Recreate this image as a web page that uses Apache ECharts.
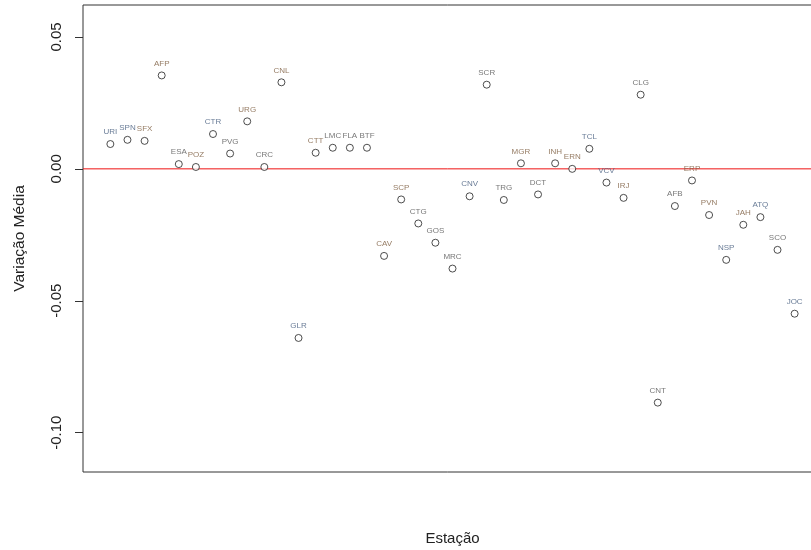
<!DOCTYPE html>
<html>
<head>
<meta charset="utf-8">
<script src="https://cdn.jsdelivr.net/npm/echarts@6/dist/echarts.min.js"></script>
<style>
  html, body { margin: 0; padding: 0; background: #ffffff; }
  #chart { width: 811px; height: 550px; }
</style>
</head>
<body>
<div id="chart"></div>
<script>
// Station codes, in plotting order (x = 1..n)
const stations = [
  'URI', 'SPN', 'SFX', 'AFP', 'ESA', 'POZ', 'CTR', 'PVG', 'URG', 'CRC',
  'CNL', 'GLR', 'CTT', 'LMC', 'FLA', 'BTF', 'CAV', 'SCP', 'CTG', 'GOS',
  'MRC', 'CNV', 'SCR', 'TRG', 'MGR', 'DCT', 'INH', 'ERN', 'TCL', 'VCV',
  'IRJ', 'CLG', 'CNT', 'AFB', 'ERP', 'PVN', 'NSP', 'JAH', 'ATQ', 'SCO', 'JOC'
];

// Mean variation per station
const meanVariation = [
  0.0094, 0.0110, 0.0106, 0.0354, 0.0018, 0.0007, 0.0132, 0.0058, 0.0180, 0.0007,
  0.0328, -0.0641, 0.0061, 0.0080, 0.0080, 0.0080, -0.0330, -0.0116, -0.0207, -0.0280,
  -0.0378, -0.0104, 0.0319, -0.0118, 0.0021, -0.0097, 0.0021, 0.0000, 0.0076, -0.0052,
  -0.0110, 0.0281, -0.0886, -0.0141, -0.0044, -0.0175, -0.0345, -0.0212, -0.0183, -0.0307, -0.0549
];

// Y-axis tick values
const yTicks = [-0.10, -0.05, 0.00, 0.05];

// Reference level drawn across the plot
const zeroLevel = 0;

// Text tints for the station labels
const warm = '#7a5a3c', cool = '#425a7c', neutral = '#555555';
const labelTint = {
  URI: cool, SPN: cool, SFX: warm, AFP: warm, ESA: neutral, POZ: warm, CTR: cool,
  PVG: neutral, URG: warm, CRC: neutral, CNL: warm, GLR: cool, CTT: warm, LMC: neutral,
  FLA: neutral, BTF: neutral, CAV: warm, SCP: warm, CTG: neutral, GOS: neutral,
  MRC: neutral, CNV: cool, SCR: neutral, TRG: neutral, MGR: warm, DCT: neutral,
  INH: warm, ERN: warm, TCL: cool, VCV: cool, IRJ: warm, CLG: neutral, CNT: neutral,
  AFB: neutral, ERP: warm, PVN: warm, NSP: cool, JAH: warm, ATQ: cool, SCO: neutral, JOC: cool
};

const xMin = -0.6, xMax = stations.length + 1.6;

const points = stations.map((name, i) => ({
  value: [i + 1, meanVariation[i]],
  name: name,
  label: { color: labelTint[name] || neutral }
}));

const chart = echarts.init(document.getElementById('chart'), null, { renderer: 'canvas' });

chart.setOption({
  animation: false,
  backgroundColor: '#ffffff',
  textStyle: { fontFamily: 'Liberation Sans, Arial, sans-serif' },
  grid: {
    left: 83, top: 5, right: -11, bottom: 78,
    outerBoundsMode: 'none',
    containLabel: false,
    show: true, borderColor: '#333333', borderWidth: 1, backgroundColor: 'transparent'
  },
  xAxis: {
    type: 'value',
    min: xMin, max: xMax,
    position: 'bottom',
    name: 'Estação',
    nameLocation: 'middle',
    nameGap: 59,
    nameTextStyle: { fontSize: 15, color: '#222222', fontFamily: 'Liberation Sans, Arial, sans-serif' },
    axisLine: { show: false, onZero: false },
    axisTick: { show: false },
    axisLabel: { show: false },
    splitLine: { show: false }
  },
  yAxis: {
    type: 'value',
    min: -0.1149, max: 0.0621,
    position: 'left',
    name: 'Variação Média',
    nameLocation: 'middle',
    nameRotate: 90,
    nameGap: 55,
    nameTextStyle: { fontSize: 15.5, color: '#222222', fontFamily: 'Liberation Sans, Arial, sans-serif' },
    axisLine: { show: false, onZero: false },
    axisTick: {
      show: true, inside: false, length: 8,
      customValues: yTicks,
      lineStyle: { color: '#333333', width: 1 }
    },
    axisLabel: {
      show: true, rotate: 90, margin: 19,
      customValues: yTicks,
      fontSize: 15, color: '#222222',
      fontFamily: 'Liberation Sans, Arial, sans-serif',
      formatter: v => v.toFixed(2)
    },
    splitLine: { show: false }
  },
  series: [
    {
      // horizontal zero reference line
      type: 'line',
      data: [[xMin, zeroLevel], [xMax, zeroLevel]],
      symbol: 'none',
      silent: true,
      lineStyle: { color: '#ee1111', width: 1 },
      emphasis: { disabled: true },
      z: 1
    },
    {
      type: 'scatter',
      data: points,
      symbol: 'circle',
      symbolSize: 7,
      itemStyle: { color: '#ffffff', borderColor: '#222222', borderWidth: 1 },
      label: {
        show: true,
        position: 'top',
        distance: 4,
        fontSize: 8,
        fontFamily: 'Liberation Sans, Arial, sans-serif',
        formatter: p => p.name
      },
      emphasis: { disabled: true },
      z: 3
    }
  ]
});
</script>
</body>
</html>
